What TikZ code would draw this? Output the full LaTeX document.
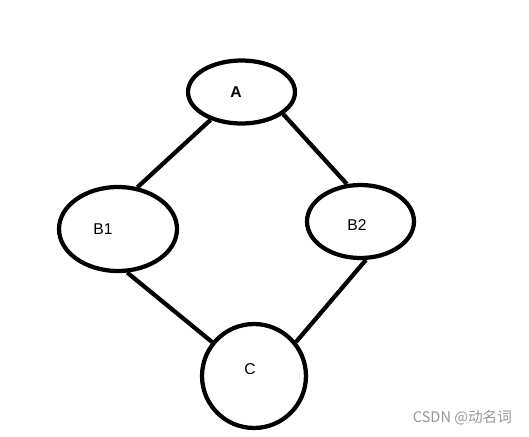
\documentclass[tikz,border=0pt]{standalone}
\usepackage{fontspec}
\setmainfont{Liberation Sans}
\newfontfamily\cjkfont{Noto Sans CJK SC}
\usetikzlibrary{shapes.geometric}
\definecolor{markgray}{RGB}{150,150,150}

\begin{document}
\begin{tikzpicture}[x=0.02cm,y=-0.02cm,line width=0.085cm,
    vertex/.style={draw=black, ellipse, inner sep=0pt},
    tag/.style={font=\fontsize{8.9}{10}\selectfont}]
          \useasboundingbox (0,0) rectangle (529,437);

          \node[vertex, minimum width=2.14cm, minimum height=1.26cm,
            label={[tag, font=\fontsize{8.9}{10}\selectfont\bfseries, xshift=-0.11cm]center:A}] (A) at (241.5,92) {};
          \node[vertex, minimum width=2.36cm, minimum height=1.68cm,
            label={[tag, xshift=-0.30cm]center:B1}] (B1) at (118,229) {};
          \node[vertex, minimum width=2.14cm, minimum height=1.46cm,
            label={[tag, xshift=-0.07cm, yshift=-0.07cm]center:B2}] (B2) at (360.5,221.5) {};
          \node[vertex, circle, minimum size=2.08cm,
            label={[tag, xshift=-0.08cm, yshift=0.14cm]center:C}] (C) at (254,376) {};

          \draw (A.222) -- (B1.65);
          \draw (A.332) -- (B2.110);
          \draw (B1.282) -- (C.141);
          \draw (B2.278) -- (C.39);

          \node[anchor=east, text=markgray, inner sep=0pt,
            font=\cjkfont\fontsize{8.3}{10}\selectfont] (mark) at (514,418) {CSDN @动名词};

          \end{tikzpicture}
\end{document}
